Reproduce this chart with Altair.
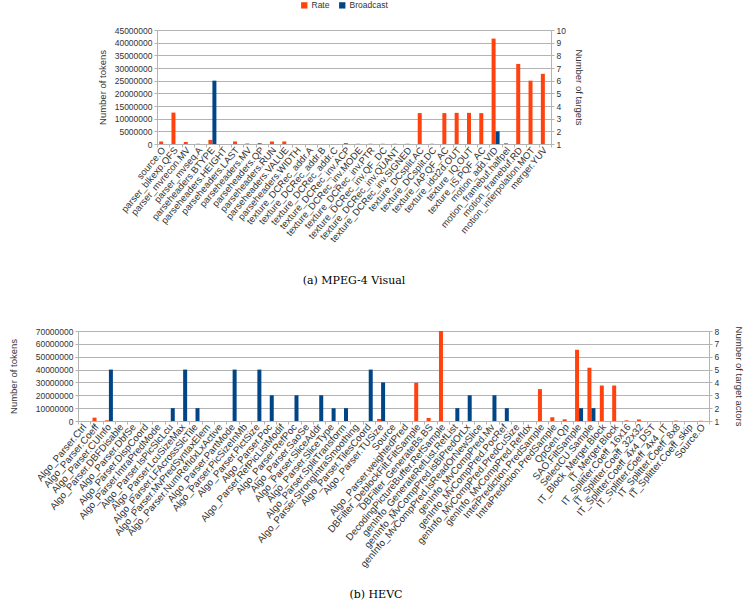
import altair as alt
import pandas as pd

# ---------------- data ----------------
mpeg_cats = [
    "source.O", "parser_blkexp.QFS", "parser_mvrecon.MV", "parser_mvseq.A",
    "parseheaders.BTYPE", "parseheaders.HEIGHT", "parseheaders.LAST", "parseheaders.MV",
    "parseheaders.QP", "parseheaders.RUN", "parseheaders.VALUE", "parseheaders.WIDTH",
    "texture_DCRec_addr.A", "texture_DCRec_addr.B", "texture_DCRec_addr.C",
    "texture_DCRec_inv.ACP", "texture_DCRec_inv.MODE", "texture_DCRec_inv.PTR",
    "texture_DCRec_inv.QF_DC", "texture_DCRec_inv.QUANT", "texture_DCRec_inv.SIGNED",
    "texture_DCsplit.AC", "texture_DCsplit.DC", "texture_IAP.QF_AC", "texture_idct2d.OUT",
    "texture_IQ.OUT", "texture_IS.PQF_AC", "motion_add.VID", "motion_framebuf.halfpel",
    "motion_framebuf.RD", "motion_interpolation.MOT", "merger.YUV",
]
mpeg_rate = [
    1000000, 12400000, 800000, 100000,
    1600000, 0, 1000000, 200000,
    400000, 1000000, 1000000, 0,
    0, 0, 0,
    400000, 100000, 100000,
    100000, 100000, 100000,
    12200000, 100000, 12200000, 12300000,
    12300000, 12200000, 41600000, 300000,
    31600000, 25000000, 27700000,
]
mpeg_broadcast = [
    1, 1, 1, 1,
    6, 1, 1, 1,
    1, 1, 1, 1,
    1, 1, 1,
    1, 1, 1,
    1, 1, 1,
    1, 1, 1, 1,
    1, 1, 2, 1,
    1, 1, 1,
]

hevc_cats = [
    "Algo_Parser.Ctrl", "Algo_Parser.Coeff", "Algo_Parser.CUInfo", "Algo_Parser.DBFDisable",
    "Algo_Parser.DbfSe", "Algo_Parser.DispCoord", "Algo_Parser.IntraPredMode",
    "Algo_Parser.IsPicSlcLcu", "Algo_Parser.LcuSizeMax", "Algo_Parser.LFAcrossSlcTile",
    "Algo_Parser.MvPredSyntaxElem", "Algo_Parser.NumRefIdxLxActive", "Algo_Parser.PartMode",
    "Algo_Parser.PicSizeInMb", "Algo_Parser.PictSize", "Algo_Parser.Poc",
    "Algo_Parser.RefPicListModif", "Algo_Parser.RefPoc", "Algo_Parser.SaoSe",
    "Algo_Parser.SliceAddr", "Algo_Parser.SliceType", "Algo_Parser.SplitTransform",
    "Algo_Parser.StrongIntraSmoothing", "Algo_Parser.TilesCoord", "Algo_Parser.TUSize",
    "Source", "Algo_Parser.weightedPred", "DBFilter_DeblockFilt.FiltSample",
    "DBFilter_GenerateBs.BS", "DecodingPictureBuffer.RefSample",
    "genInfo_GenerateRefList.RefList", "genInfo_MvCompPred.isBiPredOrLx",
    "genInfo_MvCompPred.IsReadOrNewSlice", "genInfo_MvCompPred.Mv",
    "genInfo_MvCompPred.PocRef", "genInfo_MvCompPred.PredCuSize",
    "genInfo_MvCompPred.RefIdx", "InterPrediction.PredSample", "IntraPrediction.PredSample",
    "QpGen.Qp", "SAO.FiltSample", "SelectCU.Sample", "IT_Block_Merger.Block",
    "IT_Merger.Block", "IT_Splitter.Coeff_16x16", "IT_Splitter.Coeff_32x32",
    "IT_Splitter.Coeff_4x4_DST", "IT_Splitter.Coeff_4x4_IT", "IT_Splitter.Coeff_8x8",
    "IT_Splitter.Coeff_skip", "Source.O",
]
hevc_rate = [
    0, 2600000, 500000, 0,
    0, 0, 0,
    0, 0, 0,
    0, 0, 0,
    0, 0, 0,
    0, 0, 0,
    0, 0, 0,
    0, 0, 1600000,
    0, 0, 29700000,
    2400000, 70000000,
    0, 0,
    0, 0,
    0, 0,
    0, 24800000, 2900000,
    1300000, 55400000, 41500000, 27600000,
    27600000, 500000, 1200000,
    0, 0, 300000,
    0, 200000,
]
hevc_broadcast = [
    1, 1, 5, 1,
    1, 1, 1,
    2, 5, 2,
    1, 1, 5,
    1, 5, 3,
    1, 3, 1,
    3, 2, 2,
    1, 5, 4,
    1, 1, 1,
    1, 1,
    2, 3,
    1, 3,
    2, 1,
    1, 1, 1,
    1, 2, 2, 1,
    1, 1, 1,
    1, 1, 1,
    1, 1,
]

ORANGE = "#ff420e"
BLUE = "#004586"
GRID = "#b3b3b3"
TXT = "#333333"
FONT = "Liberation Sans"
SERIES = ["Rate", "Broadcast"]


def panel(cats, rate, bc, rate_max, rate_step, bc_max, left_title, right_title,
          width, height, show_legend, caption, caption_frame, caption_offset,
          left_pad, right_pad, xfont):
    df_r = pd.DataFrame({"cat": cats, "value": rate, "series": "Rate"})
    df_b = pd.DataFrame({"cat": cats, "value": bc, "series": "Broadcast"})

    x = alt.X(
        "cat:N", sort=cats,
        scale=alt.Scale(paddingInner=0, paddingOuter=0),
        axis=alt.Axis(
            title=None, labelAngle=-50, labelFontSize=xfont, labelColor=TXT, labelFont=FONT,
            labelOverlap=False, labelLimit=0, labelPadding=1,
            tickBand="extent", tickColor=GRID, tickSize=3, domainColor=GRID,
        ),
    )
    xoff = alt.XOffset("series:N", scale=alt.Scale(domain=SERIES, paddingOuter=0.54, paddingInner=0))
    if show_legend:
        color = alt.Color(
            "series:N",
            scale=alt.Scale(domain=SERIES, range=[ORANGE, BLUE]),
            legend=alt.Legend(
                title=None, orient="none", direction="horizontal", legendX=222, legendY=-29,
                symbolType="square", symbolSize=40, labelFontSize=8.5, labelFont=FONT,
                labelColor=TXT, columnPadding=8, symbolStrokeWidth=0, labelOffset=3,
            ),
        )
    else:
        color = alt.Color(
            "series:N",
            scale=alt.Scale(domain=SERIES, range=[ORANGE, BLUE]),
            legend=None,
        )

    rate_vals = list(range(0, rate_max + 1, rate_step))
    bars_r = alt.Chart(df_r).mark_bar().encode(
        x=x, xOffset=xoff, color=color,
        y=alt.Y(
            "value:Q", scale=alt.Scale(domain=[0, rate_max], nice=False),
            axis=alt.Axis(
                orient="left", values=rate_vals, format="d", title=left_title,
                labelFontSize=8.5, labelColor=TXT, labelFont=FONT,
                titleFontSize=9.5, titleFont=FONT, titleFontWeight="normal", titleColor=TXT,
                grid=True, gridColor=GRID, tickColor=GRID, tickSize=3, domainColor=GRID,
                titlePadding=left_pad,
            ),
        ),
    )
    bars_b = alt.Chart(df_b).mark_bar().encode(
        x=x, xOffset=xoff, color=color,
        y=alt.Y(
            "value:Q", scale=alt.Scale(domain=[1, bc_max], nice=False, zero=False),
            axis=alt.Axis(
                orient="right", values=list(range(1, bc_max + 1)), title=right_title,
                labelFontSize=8.5, labelColor=TXT, labelFont=FONT,
                titleFontSize=9.5, titleFont=FONT, titleFontWeight="normal", titleColor=TXT,
                grid=False, tickColor=GRID, tickSize=3, domainColor=GRID,
                titlePadding=right_pad,
            ),
        ),
        y2=alt.datum(1),
    )
    return alt.layer(bars_r, bars_b).resolve_scale(y="independent").properties(
        width=width, height=height,
        title=alt.TitleParams(
            caption, orient="bottom", font="DejaVu Serif", fontSize=11,
            fontWeight="normal", color="#000000", frame=caption_frame,
            anchor="middle", offset=caption_offset,
        ),
    )


mpeg = panel(mpeg_cats, mpeg_rate, mpeg_broadcast, 45000000, 5000000, 10,
             "Number of tokens", "Number of targets", 394, 114, True,
             "(a) MPEG-4 Visual", "group", 32, 7, 8, 9.5)
hevc = panel(hevc_cats, hevc_rate, hevc_broadcast, 70000000, 10000000, 8,
             "Number of tokens", "Number of target actors", 631, 90, False,
             "(b) HEVC", "bounds", 20, 17, 15, 9.8)

spacer = alt.Chart(pd.DataFrame({"v": [0]})).mark_point(opacity=0).encode(
    x=alt.X("v:Q", axis=None), y=alt.Y("v:Q", axis=None)
).properties(width=19, height=10)

top = alt.hconcat(spacer, mpeg, spacing=0)

chart = alt.vconcat(top, hevc, spacing=39).resolve_scale(color="independent").configure_view(
    stroke=None
).properties(padding={"left": 8, "top": 1, "right": 0, "bottom": 0})

chart.save("out.html", embed_options={"renderer": "svg", "actions": False})
